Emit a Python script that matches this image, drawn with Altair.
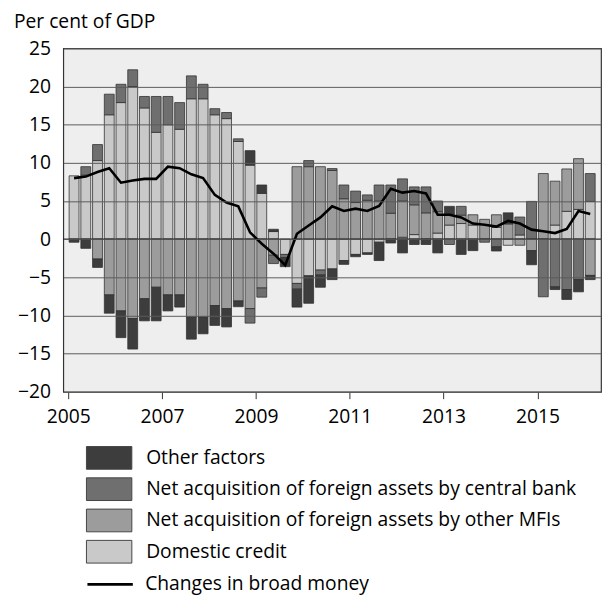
import altair as alt
import pandas as pd

# Quarters 2005Q1 .. 2016Q1
years = [2005]*4 + [2006]*4 + [2007]*4 + [2008]*4 + [2009]*4 + [2010]*4 + [2011]*4 + \
        [2012]*4 + [2013]*4 + [2014]*4 + [2015]*4 + [2016]
quarters = [1, 2, 3, 4]*11 + [1]

components = ["Other factors",
              "Net acquisition of foreign assets by central bank",
              "Net acquisition of foreign assets by other MFIs",
              "Domestic credit"]
colors = ["#3d3d3d", "#6f6f6f", "#9c9c9c", "#c9c9c9"]

domestic_credit = [8.3, 8.4, 10.3, 16.3, 17.9, 20.0, 17.2, 14.0, 15.0, 14.4, 18.4, 18.4,
                   16.3, 15.8, 12.8, 9.7, 6.0, 1.0, -2.0, -5.8, -4.8, -4.05, -3.9, -2.8,
                   -2.0, -1.8, -0.4, 0.0, 0.25, 0.6, 0.0, 0.8, 1.85, 2.05, 1.85, 0.0,
                   1.55, -0.8, 0.55, 0.0, 0.0, 1.85, 3.65, 3.9, 4.95]
other_mfis = [0.0, 0.0, -2.6, -7.3, -9.4, -10.4, -7.8, -6.3, -7.3, -7.3, -10.2, -10.2,
              -8.7, -9.1, -8.1, -9.1, -6.4, -2.1, 0.0, 9.5, 9.5, 9.5, 9.0, 5.3,
              4.8, 5.1, 5.0, 3.4, 4.75, 3.9, 3.45, 2.8, 1.45, 1.1, 1.35, 2.6,
              1.65, 2.0, -0.8, -1.5, 8.6, 5.75, 5.55, 6.65, -4.75]
central_bank = [0.0, 1.1, 2.1, 2.7, 2.4, 2.2, 1.5, 4.7, 3.7, 3.5, 3.0, 1.9,
                0.8, 0.8, 0.35, -1.9, -1.2, -1.1, -0.4, -0.75, 0.8, -0.65, 0.25, 1.8,
                1.5, 0.7, 2.1, 3.7, 2.9, 2.35, 3.4, 1.4, -0.7, 1.15, 0.0, -0.4,
                -1.0, 0.0, 2.35, 4.95, -7.55, -6.25, -6.6, -5.3, 3.65]
other_factors = [-0.4, -1.2, -1.1, -2.4, -3.5, -4.0, -2.9, -4.4, -2.1, -1.6, -2.9, -2.2,
                 -2.6, -2.4, -0.75, 1.9, 1.1, 0.3, -1.2, -2.35, -3.6, -1.6, -1.4, -0.5,
                 -0.3, -0.2, -2.4, -0.5, -1.8, -0.7, -0.7, -1.8, 1.0, -2.0, -1.5, 0.0,
                 -0.55, 1.45, 0.0, -1.85, 0.0, -0.35, -1.3, -1.6, -0.55]
broad_money = [8.0, 8.2, 8.8, 9.3, 7.4, 7.7, 7.9, 7.9, 9.5, 9.3, 8.5, 8.0,
               5.8, 4.8, 4.3, 0.9, -0.6, -1.9, -3.4, 0.7, 1.8, 2.85, 4.3, 3.7,
               4.0, 3.7, 4.35, 6.6, 6.1, 6.3, 6.0, 3.2, 3.2, 2.85, 2.05, 1.9,
               1.65, 2.4, 2.05, 1.25, 1.05, 0.8, 1.35, 3.7, 3.3]

x_ticks = [2005, 2007, 2009, 2011, 2013, 2015]
y_ticks = [-20, -15, -10, -5, 0, 5, 10, 15, 20, 25]

# stack order: domestic credit nearest zero
series = {
    "Domestic credit": (domestic_credit, 0),
    "Net acquisition of foreign assets by other MFIs": (other_mfis, 1),
    "Net acquisition of foreign assets by central bank": (central_bank, 2),
    "Other factors": (other_factors, 3),
}

rows = []
for name, (vals, rank) in series.items():
    for y, q, v in zip(years, quarters, vals):
        if v != 0:
            rows.append({"t": y + (q - 1) / 4 + 0.125, "component": name,
                         "value": v, "rank": rank})
bars_df = pd.DataFrame(rows)

line_df = pd.DataFrame({
    "t": [y + (q - 1) / 4 + 0.125 for y, q in zip(years, quarters)],
    "value": broad_money,
    "series": ["Changes in broad money"] * len(broad_money),
})
zero_df = pd.DataFrame({"value": [0]})

FONT = "Open Sans"
FS = 19.5
xscale = alt.Scale(domain=[2005, 2016.25], nice=False, zero=False)
yscale = alt.Scale(domain=[-20, 25], nice=False)

x_axis = alt.Axis(values=x_ticks, format="d", title=None, grid=False,
                  domain=False, ticks=True, tickSize=7, tickColor="#333333",
                  labelFlush=False, labelPadding=9, labelFont=FONT,
                  labelFontSize=FS, labelColor="black")
y_axis = alt.Axis(values=y_ticks, title=None, grid=True, gridColor="#5a5a5a",
                  gridWidth=1, domain=False, ticks=False, labelPadding=13,
                  labelFont=FONT, labelFontSize=FS, labelColor="black",
                  labelOverlap=False, zindex=1)

LEG_X = 34.5
LEG_Y = 403
ROW = 31.2

bars = alt.Chart(bars_df).mark_bar(size=10, stroke="#333333", strokeWidth=0.8).encode(
    x=alt.X("t:Q", scale=xscale, axis=x_axis),
    y=alt.Y("value:Q", stack="zero", scale=yscale, axis=y_axis),
    fill=alt.Fill("component:N",
                  scale=alt.Scale(domain=components, range=colors),
                  legend=alt.Legend(title=None, orient="none", legendX=LEG_X, legendY=LEG_Y,
                                    direction="vertical",
                                    symbolType="M-2,-1H2V1H-2Z", symbolSize=529,
                                    symbolStrokeColor="#444444", symbolStrokeWidth=1,
                                    symbolOpacity=1, labelFontSize=FS, labelFont=FONT,
                                    labelColor="black", labelOffset=25.5, rowPadding=3.7,
                                    padding=0, labelLimit=600)),
    order=alt.Order("rank:Q", sort="ascending"),
)

zero = alt.Chart(zero_df).mark_rule(color="black", strokeWidth=1).encode(
    y=alt.Y("value:Q", scale=yscale, axis=y_axis)
)

line = alt.Chart(line_df).mark_line(strokeWidth=2.6).encode(
    x=alt.X("t:Q", scale=xscale, axis=x_axis),
    y=alt.Y("value:Q", scale=yscale, axis=y_axis),
    stroke=alt.Stroke("series:N",
                      scale=alt.Scale(domain=["Changes in broad money"], range=["black"]),
                      legend=alt.Legend(title=None, orient="none", legendX=LEG_X,
                                        legendY=LEG_Y + 4 * ROW + 2.4, symbolType="M-2,0H2",
                                        symbolSize=529, symbolStrokeWidth=2.6,
                                        labelFontSize=FS, labelFont=FONT,
                                        labelColor="black", labelOffset=22.5,
                                        padding=0, labelLimit=600)),
)

chart = alt.layer(bars, zero, line).properties(
    width=545, height=348,
    autosize=alt.AutoSizeParams(type="none"),
    padding={"left": 56, "top": 37, "right": 2, "bottom": 202},
    title=alt.Title("Per cent of GDP", anchor="start", frame="group", dx=-50,
                    offset=6, fontSize=FS, font=FONT, fontWeight="normal",
                    color="black"),
).configure_view(
    fill="#eeeeee", stroke="#333333", strokeWidth=1.2
)

chart.save("out.html", embed_options={"renderer": "svg", "actions": False})
